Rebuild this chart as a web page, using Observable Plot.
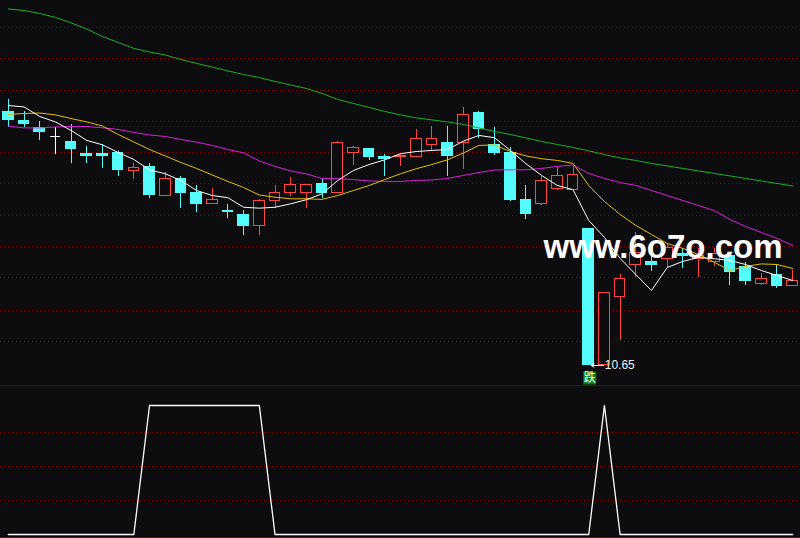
<!DOCTYPE html>
<html><head><meta charset="utf-8">
<script src="https://cdn.jsdelivr.net/npm/d3@7"></script>
<script src="https://cdn.jsdelivr.net/npm/@observablehq/plot@0.6"></script>
<style>
html,body{margin:0;padding:0;background:#0d0d10;}
#chart{width:800px;height:538px;overflow:hidden;}
#chart svg{display:block;}
</style></head><body><div id="chart"></div>
<script>
// ---- data (daily K-line, 51 sessions) ----
const opens  = [12.27,12.21,12.17,12.11,12.08,12.00,12.00,12.01,11.89,11.92, 11.73,11.84,11.75,11.68,11.64,11.61,11.54,11.70,11.75,11.75, 11.81,11.75,12.01,12.03,11.98,11.98,11.98,12.06,12.07,12.07, 12.26,12.06,12.01,11.71,11.68,11.78,11.77,11.52,10.65,11.09, 11.29,11.31,11.33,11.36,11.33,11.31,11.35,11.28,11.17,11.23, 11.16];
const highs  = [12.35,12.27,12.21,12.17,12.19,12.05,12.06,12.02,11.94,11.94, 11.88,11.86,11.80,11.78,11.68,11.64,11.71,11.80,11.85,11.80, 11.84,12.08,12.05,12.03,12.00,12.00,12.16,12.18,12.18,12.30, 12.27,12.17,12.04,11.80,11.86,11.92,11.92,11.52,11.11,11.23, 11.50,11.40,11.42,11.40,11.40,11.40,11.37,11.31,11.24,11.29, 11.26];
const lows   = [12.17,12.17,12.09,12.00,11.94,11.94,11.91,11.86,11.84,11.72, 11.73,11.65,11.63,11.68,11.59,11.48,11.48,11.65,11.73,11.65, 11.72,11.75,11.93,11.96,11.86,11.92,11.98,12.02,11.86,11.90, 12.10,11.99,11.70,11.58,11.67,11.77,11.77,10.65,10.65,10.81, 11.21,11.25,11.27,11.27,11.21,11.28,11.16,11.16,11.16,11.14, 11.16];
const closes = [12.22,12.19,12.14,12.11,12.03,11.99,11.99,11.90,11.91,11.74, 11.84,11.75,11.68,11.71,11.63,11.54,11.70,11.75,11.80,11.80, 11.75,12.07,12.04,11.98,11.97,11.99,12.10,12.10,11.99,12.25, 12.16,12.01,11.71,11.62,11.83,11.86,11.87,10.65,11.11,11.20, 11.37,11.29,11.40,11.35,11.35,11.36,11.25,11.19,11.20,11.16, 11.19];

const ma5  = [12.311,12.302,12.241,12.206,12.152,12.088,12.060,12.011,11.966,11.900, 11.875,11.832,11.768,11.736,11.722,11.661,11.655,11.661,11.683,11.709, 11.747,11.832,11.896,11.934,11.964,12.003,12.017,12.024,12.030,12.083, 12.120,12.105,12.024,11.939,11.864,11.800,11.773,11.577,11.468,11.334, 11.231,11.129,11.276,11.315,11.340,11.332,11.321,11.295,11.257,11.225, 11.193];
const ma10 = [12.254,12.260,12.263,12.251,12.228,12.206,12.180,12.126,12.078,12.030, 11.989,11.947,11.909,11.867,11.826,11.787,11.739,11.725,11.715,11.715, 11.711,11.736,11.768,11.800,11.838,11.875,11.907,11.934,11.964,12.007, 12.056,12.059,12.017,11.989,11.971,11.960,11.941,11.800,11.698,11.615, 11.545,11.487,11.430,11.398,11.359,11.310,11.257,11.283,11.299,11.295, 11.270];
const ma20 = [12.180,12.168,12.168,12.174,12.177,12.177,12.169,12.158,12.139,12.123, 12.113,12.094,12.077,12.056,12.030,12.008,11.957,11.922,11.893,11.874, 11.845,11.843,11.838,11.829,11.826,11.826,11.832,11.835,11.845,11.864, 11.883,11.899,11.900,11.900,11.909,11.922,11.931,11.877,11.845,11.819, 11.800,11.768,11.736,11.704,11.672,11.640,11.583,11.538,11.500,11.462, 11.417];
const ma60 = [12.928,12.918,12.899,12.874,12.839,12.800,12.752,12.714,12.676,12.653, 12.634,12.605,12.580,12.557,12.532,12.509,12.490,12.465,12.442,12.420, 12.388,12.350,12.324,12.299,12.273,12.251,12.232,12.219,12.206,12.190, 12.168,12.145,12.126,12.104,12.081,12.062,12.043,12.021,11.998,11.976, 11.960,11.941,11.925,11.909,11.893,11.877,11.861,11.845,11.829,11.813, 11.797];

// lower indicator panel (signal 0/1)
const signal = [0,0,0,0,0,0,0,0,0,1, 1,1,1,1,1,1,1,0,0,0, 0,0,0,0,0,0,0,0,0,0, 0,0,0,0,0,0,0,0,1,0, 0,0,0,0,0,0,0,0,0,0, 0];

// grid levels
const priceGrid  = [12.81,12.61,12.41,12.21,12.01,11.81,11.61,11.41,11.21,11.00,10.80];
const signalGrid = [0.79,0.527,0.264];
const signalFrame = [1.152,-0.025];

const markerTag = "跌";
const watermark = "www.6o7o.com";

// ---- styling ----
const BG = "#0d0d10", UP = "#ff4444", DOWN = "#54fcfc", FLAT = "#ffffff";
const GRID = "#8a0000", FRAME = "#7a0000";
const C5 = "#ffffff", C10 = "#e6c000", C20 = "#d81ed8", C60 = "#18b02a";
const W = 800, MAIN_H = 385, SUB_H = 153;
const n = opens.length;

const candles = opens.map((o, i) => ({i, open: o, high: highs[i], low: lows[i], close: closes[i]}));
const dirOf = d => d.close > d.open ? "up" : d.close < d.open ? "down" : "flat";
const colorOf = d => ({up: UP, down: DOWN, flat: FLAT})[dirOf(d)];
const bodies = candles.filter(d => dirOf(d) !== "flat");
const dojis = candles.filter(d => dirOf(d) === "flat");

const lowIdx = d3.minIndex(lows);
const markers = [{i: lowIdx, price: lows[lowIdx], label: lows[lowIdx].toFixed(2), tag: markerTag}];

const xScale = {domain: [-0.5, n - 0.5], axis: null};
const half = 0.34;
const maLine = (arr, color) => Plot.line(arr, {x: (d, i) => i, y: d => d, stroke: color, strokeWidth: 1});

const main = Plot.plot({
  width: W, height: MAIN_H, margin: 0,
  style: {background: BG, color: "#fff"},
  x: xScale,
  y: {domain: [10.522, 12.982], axis: null},
  marks: [
    Plot.ruleY(priceGrid, {stroke: GRID, strokeDasharray: "1,3", strokeWidth: 1, shapeRendering: "crispEdges"}),
    Plot.ruleX(candles, {x: "i", y1: "low", y2: "high", stroke: colorOf, strokeWidth: 1, shapeRendering: "crispEdges"}),
    Plot.rect(bodies, {x1: d => d.i - half, x2: d => d.i + half, y1: "open", y2: "close",
      fill: d => dirOf(d) === "up" ? BG : DOWN, stroke: colorOf, strokeWidth: 1, shapeRendering: "crispEdges"}),
    Plot.ruleY(dojis, {y: "open", x1: d => d.i - half, x2: d => d.i + half, stroke: colorOf, strokeWidth: 1, shapeRendering: "crispEdges"}),
    maLine(ma60, C60),
    maLine(ma20, C20),
    maLine(ma10, C10),
    maLine(ma5, C5),
    Plot.arrow(markers, {x1: d => d.i + 0.95, x2: d => d.i + 0.15, y1: "price", y2: "price", stroke: "#fff", strokeWidth: 1, headLength: 5}),
    Plot.text(markers, {x: "i", y: "price", text: "label", dx: 16, textAnchor: "start", fill: "#f0f0f0", fontSize: 12, fontFamily: "Liberation Sans, Arial, sans-serif"}),
    Plot.dot(markers, {x: "i", y: "price", dx: 1, dy: 12.5, symbol: "square", r: 7.3, fill: "#0b7d0b", stroke: "none"}),
    Plot.text(markers, {x: "i", y: "price", text: "tag", dx: 1, dy: 12.5, fill: "#fff", fontSize: 12, fontFamily: "Noto Sans CJK SC, sans-serif"}),
    Plot.text([watermark], {frameAnchor: "top-left", text: d => d, dx: 543, dy: 257, textAnchor: "start", lineAnchor: "bottom",
      fontSize: 33, fontWeight: "bold", fill: "#ffffff", fontFamily: "Liberation Sans, Arial, sans-serif"})
  ]
});

const sub = Plot.plot({
  width: W, height: SUB_H, margin: 0,
  style: {background: BG, color: "#fff"},
  x: xScale,
  y: {domain: [-0.031, 1.155], axis: null},
  marks: [
    Plot.ruleY(signalGrid, {stroke: GRID, strokeDasharray: "1,3", strokeWidth: 1, shapeRendering: "crispEdges"}),
    Plot.ruleY(signalFrame, {stroke: FRAME, strokeWidth: 1, shapeRendering: "crispEdges"}),
    Plot.line(signal, {x: (d, i) => i, y: d => d, stroke: "#fff", strokeWidth: 1.3})
  ]
});

const root = document.getElementById("chart");
root.appendChild(main);
root.appendChild(sub);
</script>
</body></html>
